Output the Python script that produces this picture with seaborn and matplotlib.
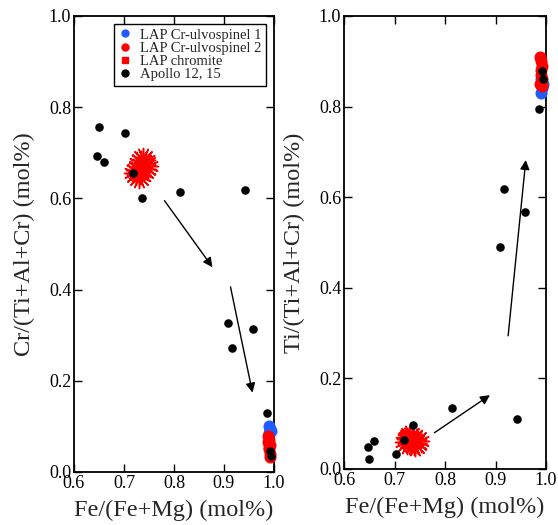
import matplotlib
matplotlib.use("Agg")
import matplotlib.pyplot as plt
from matplotlib.lines import Line2D
import seaborn as sns
import pandas as pd

# ---- data ----
ulv1_fe = [0.990, 0.992, 0.994, 0.991, 0.993]
ulv1_cr = [0.100, 0.095, 0.090, 0.085, 0.092]
ulv1_ti = [0.830, 0.840, 0.850, 0.860, 0.845]

ulv2_fe = [0.988, 0.990, 0.992, 0.991, 0.993, 0.989, 0.992, 0.990]
ulv2_cr = [0.078, 0.070, 0.060, 0.050, 0.040, 0.065, 0.032, 0.055]
ulv2_ti = [0.910, 0.900, 0.890, 0.870, 0.860, 0.850, 0.845, 0.880]

chr_fe = [0.725, 0.735, 0.740, 0.730, 0.745, 0.738, 0.728]
chr_cr = [0.655, 0.678, 0.665, 0.650, 0.670, 0.684, 0.662]
chr_ti = [0.060, 0.065, 0.055, 0.070, 0.062, 0.058, 0.066]

apo_fe = [0.647, 0.650, 0.660, 0.702, 0.718, 0.737, 0.813, 0.943,
          0.908, 0.916, 0.959, 0.986, 0.993, 0.994]
apo_cr = [0.693, 0.757, 0.680, 0.743, 0.655, 0.601, 0.614, 0.618,
          0.326, 0.272, 0.313, 0.130, 0.045, 0.036]
apo_ti = [0.049, 0.022, 0.062, 0.032, 0.065, 0.096, 0.135, 0.110,
          0.490, 0.617, 0.567, 0.795, 0.879, 0.860]

# arrows: (x_start, y_start, x_end, y_end)
arrows_cr = [(0.781, 0.595, 0.877, 0.449), (0.913, 0.406, 0.957, 0.174)]
arrows_ti = [(0.779, 0.080, 0.889, 0.163), (0.925, 0.294, 0.960, 0.682)]

x_ticks = [0.6, 0.7, 0.8, 0.9, 1.0]
y_ticks = [0.0, 0.2, 0.4, 0.6, 0.8, 1.0]
legend_labels = ["LAP Cr-ulvospinel 1", "LAP Cr-ulvospinel 2", "LAP chromite", "Apollo 12, 15"]

sns.set_style("ticks")
plt.rcParams["font.family"] = ["Liberation Serif", "DejaVu Serif"]
plt.rcParams["mathtext.fontset"] = "stix"

fig = plt.figure(figsize=(5.58, 5.25), dpi=100)
ax1 = fig.add_axes([0.1326, 0.1010, 0.3584, 0.8686])
ax2 = fig.add_axes([0.6165, 0.1067, 0.3620, 0.8629])

BLUE = "#1f5cff"
RED = "#ff0000"


def draw(ax, ycol, ulv1_y, ulv2_y, chr_y, apo_y, arrows, ylabel):
    d1 = pd.DataFrame({"fe": ulv1_fe, ycol: ulv1_y})
    d2 = pd.DataFrame({"fe": ulv2_fe, ycol: ulv2_y})
    d3 = pd.DataFrame({"fe": chr_fe, ycol: chr_y})
    d4 = pd.DataFrame({"fe": apo_fe, ycol: apo_y})
    sns.scatterplot(data=d1, x="fe", y=ycol, ax=ax, color=BLUE, s=75,
                    linewidth=0, clip_on=False, zorder=3)
    sns.scatterplot(data=d2, x="fe", y=ycol, ax=ax, color=RED, s=75,
                    linewidth=0, clip_on=False, zorder=4)
    for rot in (0, 22):
        sns.scatterplot(data=d3, x="fe", y=ycol, ax=ax, color=RED,
                        marker=(8, 2, rot), s=300, linewidth=1.1,
                        edgecolor=RED, zorder=4)
    sns.scatterplot(data=d4, x="fe", y=ycol, ax=ax, color="black", s=38,
                    linewidth=0, clip_on=False, zorder=5)
    for (xs, ys, xe, ye) in arrows:
        ax.annotate("", xy=(xe, ye), xytext=(xs, ys),
                    arrowprops=dict(arrowstyle="-|>", color="black", lw=1.0,
                                    mutation_scale=14, shrinkA=0, shrinkB=0))
    ax.set_xlim(0.6, 1.0)
    ax.set_ylim(0.0, 1.0)
    ax.set_xticks(x_ticks)
    ax.set_yticks(y_ticks)
    ax.set_xticklabels([f"{v:.1f}" for v in x_ticks])
    ax.set_yticklabels([f"{v:.1f}" for v in y_ticks])
    ax.tick_params(direction="in", length=6, width=1, top=True, right=True,
                   labelsize=13, pad=2, colors="black")
    for sp in ax.spines.values():
        sp.set_visible(True)
        sp.set_color("black")
        sp.set_linewidth(1.3)
    ax.set_xlabel("Fe/(Fe+Mg) (mol%)", fontsize=17.5, labelpad=6)
    ax.set_ylabel(ylabel, fontsize=17.5, labelpad=10)


draw(ax1, "cr", ulv1_cr, ulv2_cr, chr_cr, apo_cr, arrows_cr, "Cr/(Ti+Al+Cr) (mol%)")
draw(ax2, "ti", ulv1_ti, ulv2_ti, chr_ti, apo_ti, arrows_ti, "Ti/(Ti+Al+Cr) (mol%)")

handles = [
    Line2D([], [], marker="o", color=BLUE, linestyle="none", markersize=5),
    Line2D([], [], marker="o", color=RED, linestyle="none", markersize=5),
    Line2D([], [], marker="s", color=RED, linestyle="none", markersize=4.5),
    Line2D([], [], marker="o", color="black", linestyle="none", markersize=5),
]
leg = ax1.legend(handles, legend_labels, loc="upper right", fontsize=10.5,
                 frameon=True, fancybox=False, framealpha=1,
                 edgecolor="black", borderaxespad=0.55, handlelength=1.0,
                 handletextpad=0.5, labelspacing=0.0, borderpad=0.3)
leg.get_frame().set_linewidth(1.0)

fig.savefig("out.png", dpi=100)
